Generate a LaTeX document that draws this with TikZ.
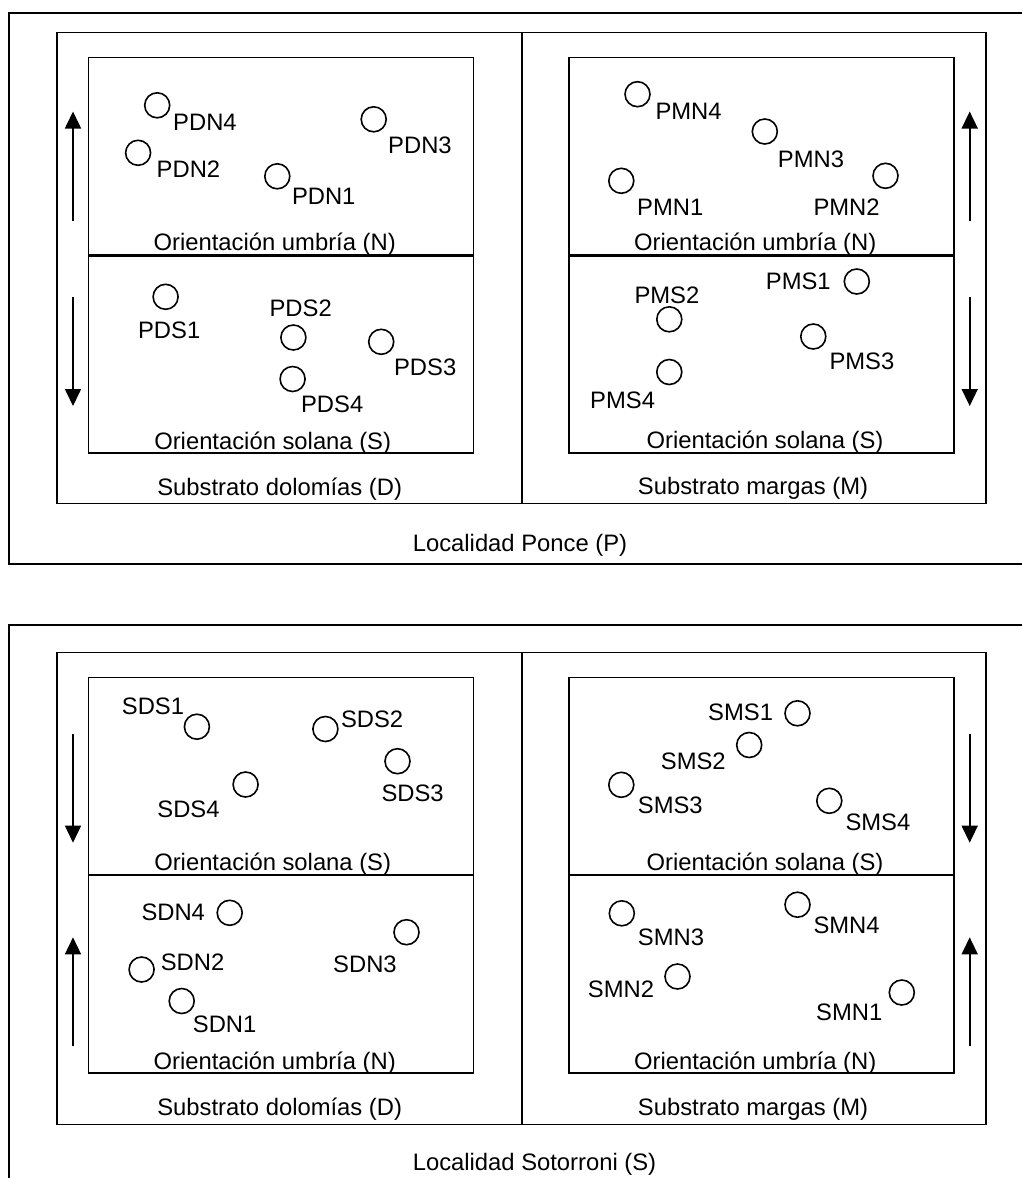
\documentclass[tikz,border=0pt]{standalone}
\usepackage{fontspec}
\setmainfont{Liberation Sans}
\usetikzlibrary{arrows.meta}
\tikzset{
  box/.style={draw,line width=1.6pt},
  sep/.style={draw,line width=2.4pt},
  plot/.style={draw,circle,line width=1.6pt,minimum size=25pt,inner sep=0pt},
  lab/.style={inner sep=0pt,font=\fontsize{23.8}{28}\selectfont},
  dirarrow/.style={line width=1.6pt,-{Triangle[width=16pt,length=17pt]}}
}
\begin{document}
\begin{tikzpicture}[x=1pt,y=-1pt]
\useasboundingbox (0,0) rectangle (1021,1178);
% ================= TOP PANEL: Ponce =================
\draw[box] (1024,13) -- (9,13) -- (9,564) -- (1024,564);
\draw[box] (57,32.5) rectangle (986,503.5);
\draw[box] (521.7,32.5) -- (521.7,503.5);
\draw[box] (88.6,57.5) rectangle (473.3,452.7);
\draw[sep] (88.6,255.3) -- (473.3,255.3);
\draw[box] (569,57.5) rectangle (954,452.7);
\draw[sep] (569,255.3) -- (954,255.3);
% arrows
\coordinate (pla1) at (73,221); \coordinate (pla2) at (73,111.5);
\coordinate (plb1) at (73,297); \coordinate (plb2) at (73,406);
\coordinate (pra1) at (969.7,221); \coordinate (pra2) at (969.7,111.5);
\coordinate (prb1) at (969.7,297); \coordinate (prb2) at (969.7,406);
\draw[dirarrow] (pla1) -- (pla2);
\draw[dirarrow] (plb1) -- (plb2);
\draw[dirarrow] (pra1) -- (pra2);
\draw[dirarrow] (prb1) -- (prb2);
% PD N
\node[plot] (cPDN4) at (157.2,105.3) {};
\node[lab,anchor=base west] (tPDN4) at (173,130) {PDN4};
\node[plot] (cPDN2) at (138.1,152.8) {};
\node[lab,anchor=base west] (tPDN2) at (156.5,177.7) {PDN2};
\node[plot] (cPDN3) at (373.7,119.3) {};
\node[lab,anchor=base west] (tPDN3) at (388,153.3) {PDN3};
\node[plot] (cPDN1) at (277.3,176.3) {};
\node[lab,anchor=base west] (tPDN1) at (291.8,204.3) {PDN1};
\node[lab,anchor=base] (oPDN) at (274.7,250.7) {Orientación umbría (N)};
% PD S
\node[plot] (cPDS1) at (165.6,296.8) {};
\node[lab,anchor=base west] (tPDS1) at (137.9,338.3) {PDS1};
\node[plot] (cPDS2) at (293.4,337.5) {};
\node[lab,anchor=base west] (tPDS2) at (269.4,316.7) {PDS2};
\node[plot] (cPDS3) at (381.2,341.8) {};
\node[lab,anchor=base west] (tPDS3) at (393.9,375.7) {PDS3};
\node[plot] (cPDS4) at (292.6,379) {};
\node[lab,anchor=base west] (tPDS4) at (300.9,412.3) {PDS4};
\node[lab,anchor=base] (oPDS) at (272.7,449) {Orientación solana (S)};
\node[lab,anchor=base] (sPD) at (279.7,495) {Substrato dolomías (D)};
% PM N
\node[plot] (cPMN4) at (637.5,94.2) {};
\node[lab,anchor=base west] (tPMN4) at (655.3,119) {PMN4};
\node[plot] (cPMN3) at (764.8,131.5) {};
\node[lab,anchor=base west] (tPMN3) at (777.7,167.3) {PMN3};
\node[plot] (cPMN1) at (621.3,180.8) {};
\node[lab,anchor=base west] (tPMN1) at (637,215) {PMN1};
\node[plot] (cPMN2) at (885.5,175.8) {};
\node[lab,anchor=base west] (tPMN2) at (813.3,215) {PMN2};
\node[lab,anchor=base] (oPMN) at (755.2,250.7) {Orientación umbría (N)};
% PM S
\node[plot] (cPMS1) at (856.8,281.5) {};
\node[lab,anchor=base west] (tPMS1) at (765.7,289.3) {PMS1};
\node[plot] (cPMS2) at (669.3,319.3) {};
\node[lab,anchor=base west] (tPMS2) at (634.3,303.3) {PMS2};
\node[plot] (cPMS3) at (813.3,336.5) {};
\node[lab,anchor=base west] (tPMS3) at (829.3,369.3) {PMS3};
\node[plot] (cPMS4) at (669.3,372) {};
\node[lab,anchor=base west] (tPMS4) at (590,408.3) {PMS4};
\node[lab,anchor=base] (oPMS) at (765,448.5) {Orientación solana (S)};
\node[lab,anchor=base] (sPM) at (753,494.3) {Substrato margas (M)};
\node[lab,anchor=base] (locP) at (520,551.7) {Localidad Ponce (P)};
% ================= BOTTOM PANEL: Sotorroni =================
\draw[box] (1024,625) -- (9,625) -- (9,1182);
\draw[box] (57,652.3) rectangle (986,1124.3);
\draw[box] (521.7,652.3) -- (521.7,1124.3);
\draw[box] (88.6,677.3) rectangle (473.3,1072.7);
\draw[sep] (88.6,874.7) -- (473.3,874.7);
\draw[box] (569,677.3) rectangle (954,1072.7);
\draw[sep] (569,874.7) -- (954,874.7);
% arrows
\coordinate (sla1) at (73,734); \coordinate (sla2) at (73,842.7);
\coordinate (slb1) at (73,1045.7); \coordinate (slb2) at (73,937.3);
\coordinate (sra1) at (969.7,734); \coordinate (sra2) at (969.7,842.7);
\coordinate (srb1) at (969.7,1045.7); \coordinate (srb2) at (969.7,937.3);
\draw[dirarrow] (sla1) -- (sla2);
\draw[dirarrow] (slb1) -- (slb2);
\draw[dirarrow] (sra1) -- (sra2);
\draw[dirarrow] (srb1) -- (srb2);
% SD S
\node[plot] (cSDS1) at (196.9,726.7) {};
\node[lab,anchor=base west] (tSDS1) at (121.7,714) {SDS1};
\node[plot] (cSDS2) at (325.4,729) {};
\node[lab,anchor=base west] (tSDS2) at (340.8,727.7) {SDS2};
\node[plot] (cSDS3) at (397.5,761.2) {};
\node[lab,anchor=base west] (tSDS3) at (381.3,801.7) {SDS3};
\node[plot] (cSDS4) at (245.6,784.5) {};
\node[lab,anchor=base west] (tSDS4) at (157.2,817.3) {SDS4};
\node[lab,anchor=base] (oSDS) at (272.7,870.7) {Orientación solana (S)};
% SD N
\node[plot] (cSDN4) at (229.7,912.8) {};
\node[lab,anchor=base west] (tSDN4) at (141.3,920.7) {SDN4};
\node[plot] (cSDN3) at (406.5,932.2) {};
\node[lab,anchor=base west] (tSDN3) at (333,972.7) {SDN3};
\node[plot] (cSDN2) at (141.6,969.5) {};
\node[lab,anchor=base west] (tSDN2) at (160.6,970.7) {SDN2};
\node[plot] (cSDN1) at (181.7,1001) {};
\node[lab,anchor=base west] (tSDN1) at (192.7,1032.7) {SDN1};
\node[lab,anchor=base] (oSDN) at (274.7,1069) {Orientación umbría (N)};
\node[lab,anchor=base] (sSD) at (279.7,1115) {Substrato dolomías (D)};
% SM S
\node[plot] (cSMS1) at (797.5,713.3) {};
\node[lab,anchor=base west] (tSMS1) at (708,720) {SMS1};
\node[plot] (cSMS2) at (749.2,745) {};
\node[lab,anchor=base west] (tSMS2) at (660.7,769.3) {SMS2};
\node[plot] (cSMS3) at (621.3,784.8) {};
\node[lab,anchor=base west] (tSMS3) at (637.7,813.3) {SMS3};
\node[plot] (cSMS4) at (829.3,800.8) {};
\node[lab,anchor=base west] (tSMS4) at (845.3,830) {SMS4};
\node[lab,anchor=base] (oSMS) at (765,870.7) {Orientación solana (S)};
% SM N
\node[plot] (cSMN3) at (621.8,913.3) {};
\node[lab,anchor=base west] (tSMN3) at (637.7,945) {SMN3};
\node[plot] (cSMN4) at (797.5,904.7) {};
\node[lab,anchor=base west] (tSMN4) at (813.3,933.3) {SMN4};
\node[plot] (cSMN2) at (677.5,976.5) {};
\node[lab,anchor=base west] (tSMN2) at (587.7,997.3) {SMN2};
\node[plot] (cSMN1) at (901.8,992.5) {};
\node[lab,anchor=base west] (tSMN1) at (816,1020) {SMN1};
\node[lab,anchor=base] (oSMN) at (755.2,1069) {Orientación umbría (N)};
\node[lab,anchor=base] (sSM) at (753,1115) {Substrato margas (M)};
\node[lab,anchor=base] (locS) at (534.5,1170) {Localidad Sotorroni (S)};
\end{tikzpicture}
\end{document}
